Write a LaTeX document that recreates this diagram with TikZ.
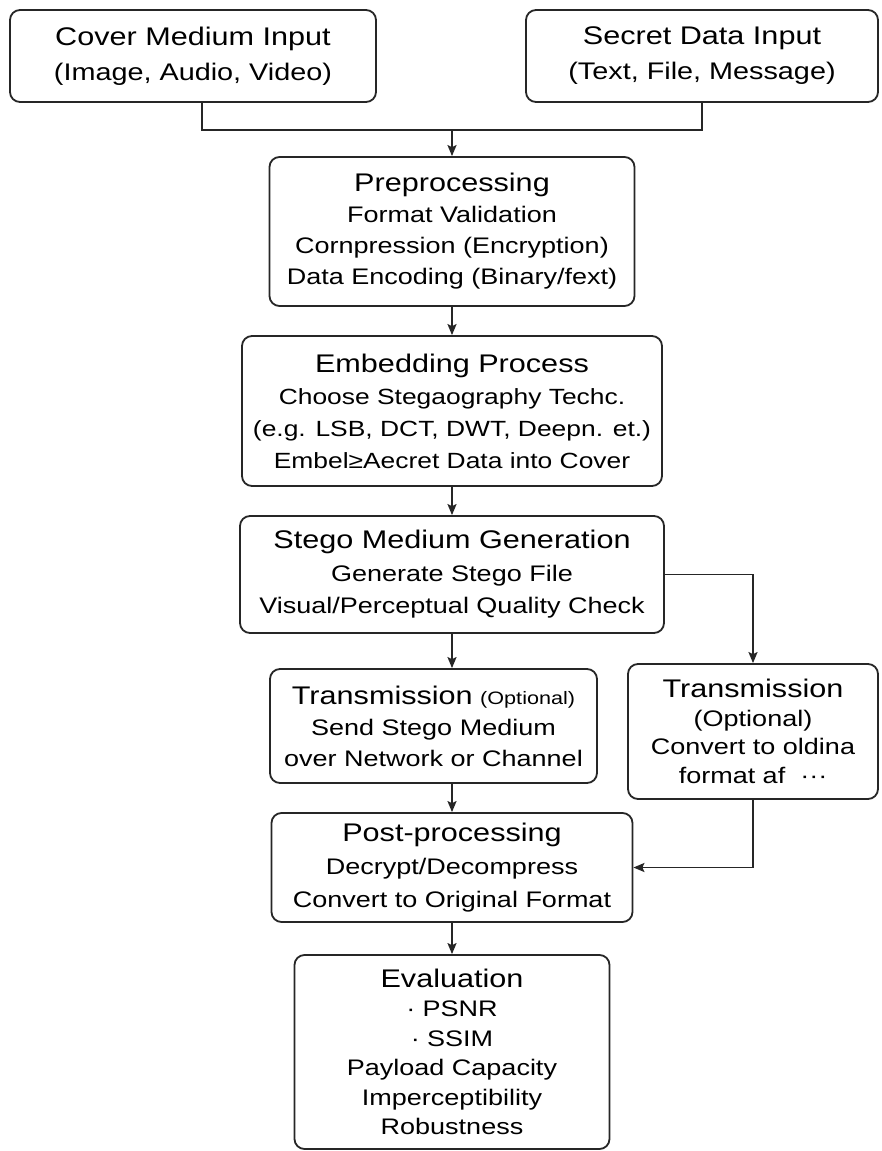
\documentclass[tikz,border=0pt]{standalone}
\usepackage{fontspec}
\setmainfont{Liberation Sans}[FakeStretch=1.2]
\usetikzlibrary{arrows.meta}
\newcommand{\ttl}[1]{{\fontsize{25.5}{31}\selectfont #1}}
\newcommand{\optfont}{\fontsize{18}{20}\selectfont}

\begin{document}
\begin{tikzpicture}[x=1pt,y=1pt,yscale=-1,
	box/.style={draw=black!85, line width=1.8pt, rounded corners=10pt, align=center, inner sep=0pt, font=\fontsize{22.5}{31}\selectfont},
	arr/.style={-{Stealth[length=11pt,width=9pt,inset=2pt]}, line width=1.7pt, draw=black!85},
	line/.style={line width=1.7pt, draw=black!85}]
	\useasboundingbox (0,0) rectangle (881,1151);
	\node [box, minimum width=366pt, minimum height=92pt, font=\fontsize{24}{35}\selectfont] (cover) at (193,56) {\ttl{Cover Medium Input}\\(Image, Audio, Video)};
	\node [box, minimum width=352pt, minimum height=92pt, font=\fontsize{24}{35}\selectfont] (secret) at (702,56) {\ttl{Secret Data Input}\\(Text, File, Message)};
	\node [box, minimum width=365pt, minimum height=149pt] (pre) at (452,231.5) {\ttl{Preprocessing}\\Format Validation\\Cornpression (Encryption)\\Data Encoding (Binary/fext)};
	\node [box, minimum width=420pt, minimum height=150pt, font=\fontsize{22}{32}\selectfont] (embed) at (452,411) {\ttl{Embedding Process}\\Choose Stegaography Techc.\\(e.g. LSB, DCT, DWT, Deepn. et.)\\Embel≥Aecret Data into Cover};
	\node [box, minimum width=424pt, minimum height=117pt, font=\fontsize{22.5}{32.5}\selectfont] (stego) at (452,574.5) {\ttl{Stego Medium Generation}\\Generate Stego File\\Visual/Perceptual Quality Check};
	\node [box, minimum width=327pt, minimum height=114pt] (transL) at (433.5,726) {\ttl{Transmission} {\optfont (Optional)}\\Send Stego Medium\\over Network or Channel};
	\node [box, minimum width=250pt, minimum height=135pt, font=\fontsize{22.5}{28.5}\selectfont] (transR) at (753,731.5) {\ttl{Transmission}\\(Optional)\\Convert to oldina\\format af\ \ ···};
	\node [box, minimum width=361pt, minimum height=109pt, font=\fontsize{22.5}{33}\selectfont] (post) at (452,867.5) {\ttl{Post-processing}\\Decrypt/Decompress\\Convert to Original Format};
	\node [box, minimum width=315pt, minimum height=194pt, font=\fontsize{22.5}{29.5}\selectfont] (eval) at (452,1052) {\ttl{Evaluation}\\·\ PSNR\\·\ SSIM\\Payload Capacity\\Imperceptibility\\Robustness};
	\coordinate (jl) at (202,130);
	\coordinate (jr) at (702,130);
	\coordinate (join) at (452,130);
	\draw [line] (cover.south -| jl) -- (jl) -- (jr) -- (secret.south);
	\draw [arr] (join) -- (pre.north);
	\draw [arr] (pre) -- (embed);
	\draw [arr] (embed) -- (stego);
	\draw [arr] (stego.south) -- (stego.south |- transL.north);
	\draw [arr] (stego.east) -| (transR.north);
	\draw [arr] (post.north |- transL.south) -- (post.north);
	\draw [arr] (transR.south) |- (post.east);
	\draw [arr] (post) -- (eval);
\end{tikzpicture}
\end{document}
